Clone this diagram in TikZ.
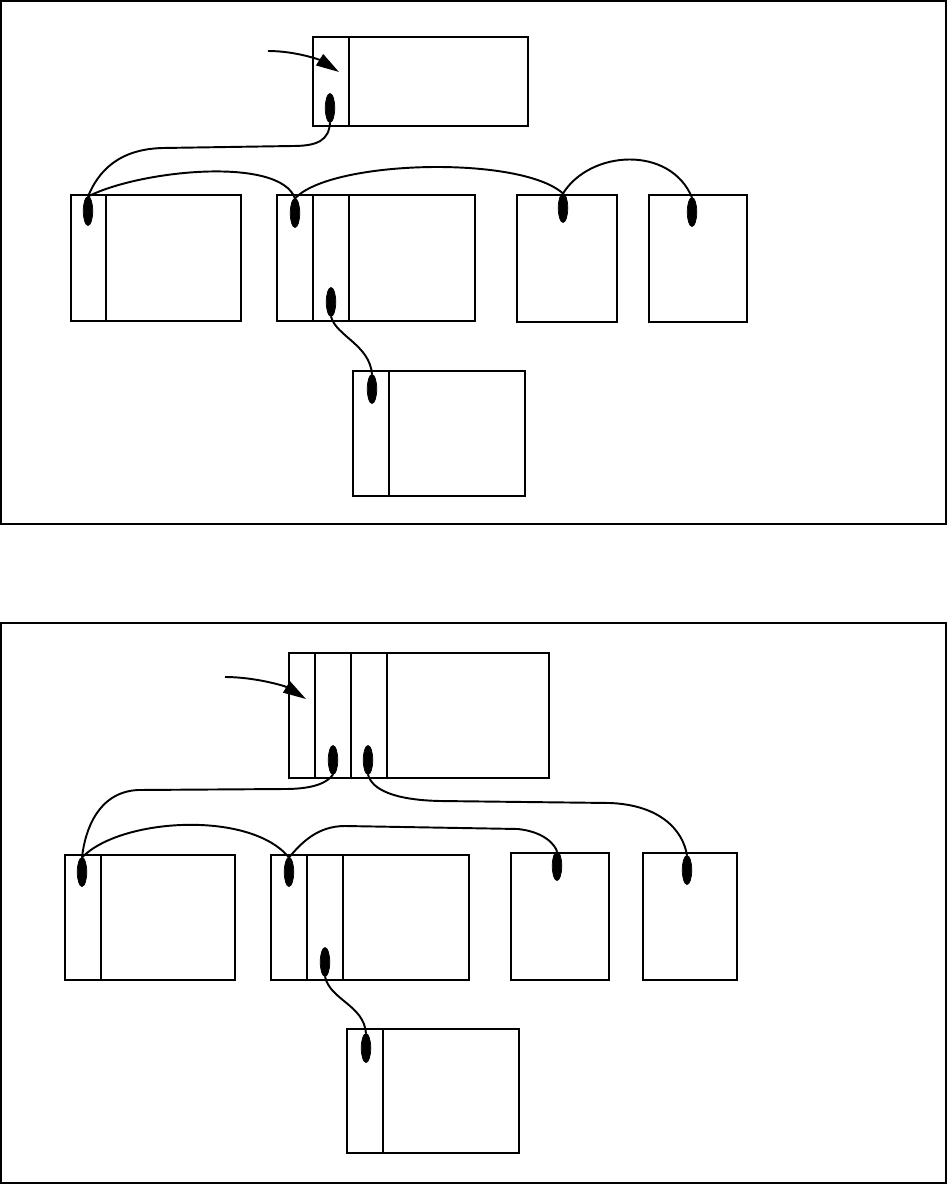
\documentclass[tikz,border=0pt]{standalone}
\usepackage{tikz}
\usetikzlibrary{arrows.meta,shapes.geometric}

\begin{document}
\begin{tikzpicture}[
  x=0.02cm, y=-0.02cm,
  blk/.style={draw, line width=1.1pt, inner sep=0pt, outer sep=0pt},
  ptr/.style={draw, ellipse, fill=black, inner sep=0pt, outer sep=0pt,
              minimum width=0.19cm, minimum height=0.58cm},
  lnk/.style={line width=1.1pt},
  arr/.style={line width=1.1pt, -{Triangle[length=4.6mm,width=2.6mm]}},
  frm/.style={draw, line width=1pt},
]
\useasboundingbox (0,0) rectangle (949,1185);
\draw[frm] (1,1) rectangle (946,524);
\draw[frm] (1,623) rectangle (946,1183);

% upper panel
\node[blk, minimum width=4.3cm,  minimum height=1.78cm] (rt) at (420.5,81.5) {};
\node[blk, minimum width=3.4cm,  minimum height=2.52cm] (ra) at (156,258) {};
\node[blk, minimum width=3.96cm, minimum height=2.52cm] (rb) at (376,258) {};
\node[blk, minimum width=2.0cm,  minimum height=2.54cm] (rc) at (567,258.5) {};
\node[blk, minimum width=1.96cm, minimum height=2.54cm] (rd) at (698,258.5) {};
\node[blk, minimum width=3.44cm, minimum height=2.5cm]  (re) at (439,433.5) {};
\draw[lnk] ([xshift=0.72cm]rt.north west) -- ([xshift=0.72cm]rt.south west);
\draw[lnk] ([xshift=0.7cm]ra.north west) -- ([xshift=0.7cm]ra.south west);
\draw[lnk] ([xshift=0.72cm]rb.north west) -- ([xshift=0.72cm]rb.south west);
\draw[lnk] ([xshift=1.44cm]rb.north west) -- ([xshift=1.44cm]rb.south west);
\draw[lnk] ([xshift=0.72cm]re.north west) -- ([xshift=0.72cm]re.south west);

\node[ptr] (pr)  at (330,108) {};
\node[ptr] (pa)  at (88,211) {};
\node[ptr] (pb)  at (295,213) {};
\node[ptr] (pb2) at (331,302) {};
\node[ptr] (pc)  at (563,208) {};
\node[ptr] (pd)  at (692,212) {};
\node[ptr] (pe)  at (372,389) {};

\coordinate (rin) at (268,51);
\coordinate (rtip) at (339,72);
\draw[arr] (rin) .. controls (296,51) and (320,60) .. (rtip);
\draw[lnk] (pr.south) .. controls (329,140) and (318,146) .. (293,146)
  -- (163,148) .. controls (118,149) and (98,172) .. (pa.north);
\draw[lnk] (pa.north) .. controls (140,170) and (280,156) .. (pb.north);
\draw[lnk] (pb.north) .. controls (330,160) and (520,155) .. (pc.north);
\draw[lnk] (pc.north) .. controls (590,150) and (670,145) .. (pd.north);
\draw[lnk] (pb2.south) .. controls (336,336) and (370,345) .. (pe.north);

% lower panel
\node[blk, minimum width=5.2cm,  minimum height=2.5cm]  (st) at (419,715.5) {};
\node[blk, minimum width=3.4cm,  minimum height=2.5cm]  (sa) at (150,917.5) {};
\node[blk, minimum width=3.96cm, minimum height=2.5cm]  (sb) at (370,917.5) {};
\node[blk, minimum width=1.96cm, minimum height=2.54cm] (sc) at (560,916.5) {};
\node[blk, minimum width=1.88cm, minimum height=2.54cm] (sd) at (690,916.5) {};
\node[blk, minimum width=3.44cm, minimum height=2.48cm] (se) at (433,1091) {};
\draw[lnk] ([xshift=0.52cm]st.north west) -- ([xshift=0.52cm]st.south west);
\draw[lnk] ([xshift=1.24cm]st.north west) -- ([xshift=1.24cm]st.south west);
\draw[lnk] ([xshift=1.96cm]st.north west) -- ([xshift=1.96cm]st.south west);
\draw[lnk] ([xshift=0.72cm]sa.north west) -- ([xshift=0.72cm]sa.south west);
\draw[lnk] ([xshift=0.72cm]sb.north west) -- ([xshift=0.72cm]sb.south west);
\draw[lnk] ([xshift=1.44cm]sb.north west) -- ([xshift=1.44cm]sb.south west);
\draw[lnk] ([xshift=0.72cm]se.north west) -- ([xshift=0.72cm]se.south west);

\node[ptr] (q1)  at (333,760) {};
\node[ptr] (q2)  at (368,760) {};
\node[ptr] (qa)  at (82,872) {};
\node[ptr] (qb)  at (289,872) {};
\node[ptr] (qb2) at (325,962) {};
\node[ptr] (qc)  at (557,866) {};
\node[ptr] (qd)  at (687,870) {};
\node[ptr] (qe)  at (366,1048) {};

\coordinate (sin) at (225,677);
\coordinate (stip) at (306,699);
\draw[arr] (sin) .. controls (255,677) and (285,686) .. (stip);
\draw[lnk] (q1.south) .. controls (328,782) and (315,789) .. (285,789)
  -- (138,790) .. controls (98,792) and (85,830) .. (qa.north);
\draw[lnk] (q2.south) .. controls (372,790) and (395,800) .. (440,801)
  -- (610,803) .. controls (660,805) and (683,830) .. (qd.north);
\draw[lnk] (qa.north) .. controls (120,818) and (250,810) .. (qb.north);
\draw[lnk] (qb.north) .. controls (302,842) and (318,826) .. (345,826)
  -- (518,829) .. controls (545,832) and (555,845) .. (qc.north);
\draw[lnk] (qb2.south) .. controls (330,1000) and (364,1005) .. (qe.north);
\end{tikzpicture}
\end{document}
